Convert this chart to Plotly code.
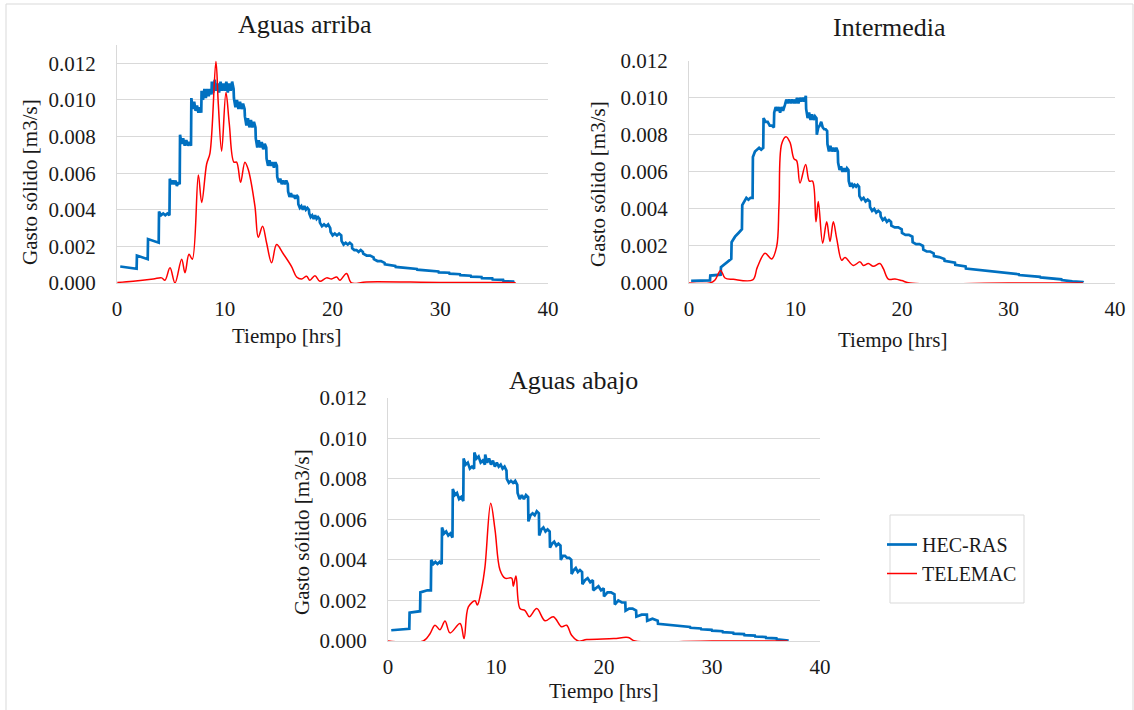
import plotly.graph_objects as go

W, H = 1134, 710
FONT = "Liberation Serif"

# ---------------- data ----------------
TIME_TICKS = [0, 10, 20, 30, 40]
Q_TICKS = [0.000, 0.002, 0.004, 0.006, 0.008, 0.010, 0.012]
SERIES_NAMES = ["HEC-RAS", "TELEMAC"]
PANEL_TITLES = ["Aguas arriba", "Intermedia", "Aguas abajo"]
X_TITLE = "Tiempo [hrs]"
Y_TITLE = "Gasto sólido [m3/s]"

# HEC-RAS, Aguas arriba: start time of each step and the values read along it
UP_HEC_START = [0.3, 1.85, 2.88, 3.9, 4.9, 5.85, 6.9, 7.85, 8.8, 10.85, 11.87, 12.88,
                13.88, 14.87, 15.88, 16.83, 17.84, 18.83, 19.82, 20.84, 21.83, 22.85,
                23.84, 24.86, 25.86, 26.86, 27.86, 28.86, 29.86, 30.86, 31.86, 32.86,
                33.86, 34.86, 35.86]
UP_HEC_VALUES = [
    [0.0009, 0.00086, 0.00083, 0.0008, 0.00078],
    [0.0015, 0.00142, 0.00135, 0.0013],
    [0.0024, 0.00232, 0.00226, 0.0022],
    [0.0039, 0.0037, 0.0038, 0.0037, 0.0038, 0.0037],
    [0.0057, 0.0054, 0.0056, 0.0054, 0.0056, 0.0053, 0.0055, 0.0054],
    [0.0081, 0.0076, 0.0079, 0.0075, 0.0078, 0.0075, 0.0077, 0.0075],
    [0.0101, 0.0095, 0.0099, 0.0094, 0.0097, 0.0093, 0.0096, 0.0093],
    [0.0105, 0.0100, 0.0106, 0.0101, 0.0106, 0.0102, 0.0106, 0.0103],
    [0.0110, 0.0104, 0.0111, 0.0105, 0.0109, 0.0104, 0.0110, 0.0105,
     0.0109, 0.0105, 0.0110, 0.0104, 0.0109, 0.0105, 0.0110, 0.0106],
    [0.0101, 0.0096, 0.0100, 0.0095, 0.0099, 0.0095, 0.0098, 0.0095],
    [0.0091, 0.0086, 0.0090, 0.0085, 0.0089, 0.0085, 0.0088, 0.0085],
    [0.0079, 0.0074, 0.0078, 0.0074, 0.0077, 0.0073, 0.0076, 0.0074],
    [0.0068, 0.0064, 0.0067, 0.0064, 0.0066, 0.0063, 0.0066, 0.0064],
    [0.0058, 0.0055, 0.0057, 0.0054, 0.0056, 0.0054, 0.0056, 0.0054],
    [0.0050, 0.0047, 0.0049, 0.0047, 0.0048, 0.0046, 0.0048, 0.0047],
    [0.0043, 0.0041, 0.0042, 0.0040, 0.0042, 0.0040, 0.0041, 0.0040],
    [0.0038, 0.0036, 0.0037, 0.0035, 0.0037, 0.0035, 0.0036, 0.0035],
    [0.0033, 0.0031, 0.0032, 0.0031, 0.0032, 0.0030],
    [0.0028, 0.0026, 0.0027, 0.0026, 0.0027, 0.0026],
    [0.0023, 0.0021, 0.0022, 0.0021, 0.0022, 0.0021],
    [0.0019, 0.0018, 0.0018, 0.0017, 0.0018, 0.0017],
    [0.0016, 0.0015, 0.0015, 0.0014],
    [0.0013, 0.0012, 0.0012, 0.0011],
    [0.00102, 0.00097, 0.00093],
    [0.00088, 0.00084],
    [0.0008, 0.00077],
    [0.00073, 0.0007],
    [0.00066, 0.00063],
    [0.00058, 0.00056],
    [0.00051, 0.00048],
    [0.00043, 0.0004],
    [0.00035, 0.00033],
    [0.00027, 0.00025],
    [0.00019, 0.00017],
    [0.00011, 0.00008],
]
UP_HEC_END = (36.8, 0.00002)

UP_TEL_T = [0.03, 1.5, 3.37, 4.14, 4.45, 4.92, 5.38, 6.0, 6.31, 6.68, 6.99, 7.55, 7.86,
            8.32, 8.63, 9.18, 9.4, 9.71, 10.11, 10.42, 10.85, 11.1, 11.47, 11.87, 12.18,
            12.8, 13.11, 13.51, 13.88, 14.35, 14.81, 15.43, 16.2, 16.67, 17.13, 17.6,
            17.9, 18.37, 18.83, 19.45, 19.91, 20.38, 20.69, 21.3, 21.77, 23.16, 30.0, 37.0]
UP_TEL_Q = [0.00003, 0.0001, 0.00022, 0.00028, 0.00015, 0.00083, 0.0, 0.0013, 0.00056,
            0.00157, 0.0013, 0.0059, 0.0044, 0.0065, 0.0071, 0.0121, 0.0098, 0.0072,
            0.0104, 0.0087, 0.0066, 0.0066, 0.0055, 0.0066, 0.0062, 0.0042, 0.0025,
            0.0031, 0.0022, 0.0011, 0.0021, 0.0016, 0.0009, 0.00033, 0.00022, 0.00037,
            0.00015, 0.0004, 0.00009, 0.00028, 0.00022, 0.00033, 0.00015, 0.00052, 0.0,
            0.00006, 0.00003, 0.00002]

# HEC-RAS, Intermedia
MID_HEC_START = [0.2, 2, 3, 4, 5, 6, 7, 8, 9, 10, 11, 12, 13, 14, 15, 16, 17, 18, 19, 20,
                 21, 22, 23, 24, 25, 26, 27, 28, 29, 30, 31, 32, 33, 34, 35, 36]
MID_HEC_VALUES = [
    [0.00012, 0.00013, 0.00014],
    [0.0004, 0.00042, 0.00045],
    [0.00085, 0.001, 0.0012, 0.0013],
    [0.0022, 0.0025, 0.0027, 0.0029],
    [0.0042, 0.0044, 0.0046, 0.0045, 0.0046, 0.0046],
    [0.0068, 0.0071, 0.0072, 0.0073, 0.0072, 0.0073],
    [0.0089, 0.0087, 0.0087, 0.0085, 0.0085, 0.0084],
    [0.0092, 0.0095, 0.0093, 0.0095, 0.0092, 0.0095, 0.0093, 0.0095],
    [0.0096, 0.0099, 0.0097, 0.0099, 0.0097, 0.0099, 0.0097, 0.0099],
    [0.0097, 0.0100, 0.0097, 0.0100, 0.0098, 0.0100, 0.0098, 0.0101],
    [0.0094, 0.0089, 0.0092, 0.0088, 0.0091, 0.0088, 0.0090, 0.0089],
    [0.0080, 0.0084, 0.0085, 0.0087, 0.0084, 0.0083, 0.0083, 0.0082],
    [0.0075, 0.0071, 0.0074, 0.0071, 0.0073, 0.0071, 0.0073, 0.0071],
    [0.0065, 0.0061, 0.0063, 0.0060, 0.0062, 0.0060, 0.0062, 0.0061],
    [0.0055, 0.0052, 0.0054, 0.0052, 0.0053, 0.0052, 0.0053, 0.0052],
    [0.0047, 0.0045, 0.0046, 0.0044, 0.0045, 0.0044],
    [0.0041, 0.0039, 0.0040, 0.0038, 0.0039, 0.0038],
    [0.0036, 0.0034, 0.0035, 0.0033, 0.0034, 0.0033],
    [0.0031, 0.0030, 0.0030, 0.0029],
    [0.0027, 0.0026, 0.0026, 0.0025],
    [0.0022, 0.0021, 0.0021, 0.0020],
    [0.0018, 0.0017, 0.0017, 0.0016],
    [0.00145, 0.0014, 0.0013],
    [0.0012, 0.00115, 0.0011],
    [0.00098, 0.0009],
    [0.00078, 0.00072],
    [0.0007, 0.00066],
    [0.00063, 0.0006],
    [0.00056, 0.00053],
    [0.0005, 0.00047],
    [0.00043, 0.0004],
    [0.00036, 0.00033],
    [0.0003, 0.00027],
    [0.00023, 0.0002],
    [0.00016, 0.00013],
    [0.00009, 0.00005],
]
MID_HEC_END = (37.0, 0.00002)

MID_TEL_T = [0.0, 1.97, 2.44, 2.97, 3.38, 4.16, 5.98, 6.42, 7.14, 7.76, 8.23, 8.45, 8.7,
             9.11, 9.48, 9.86, 10.11, 10.42, 10.95, 11.3, 11.6, 11.92, 12.14, 12.55, 12.93,
             13.24, 13.55, 13.87, 14.34, 14.65, 15.43, 16.06, 16.37, 16.84, 17.31, 17.93,
             18.25, 18.72, 19.34, 19.97, 20.75, 30.0, 37.0]
MID_TEL_Q = [0.0, 0.0, 0.00016, 0.00068, 0.00027, 0.0002, 0.00017, 0.00086, 0.0016, 0.0013,
             0.00196, 0.0042, 0.0075, 0.0079, 0.0076, 0.0067, 0.0066, 0.0054, 0.0064, 0.0055,
             0.0055, 0.0033, 0.0044, 0.00215, 0.0033, 0.00224, 0.0033, 0.0024, 0.00123,
             0.00138, 0.00095, 0.00114, 0.00095, 0.00105, 0.0009, 0.00105, 0.00077, 0.00021,
             0.00021, 0.00013, 0.0, 0.0, 0.0]

# HEC-RAS, Aguas abajo
DOWN_HEC_START = [0.3, 2, 3, 4, 5, 6, 7, 8, 9, 11, 12, 13, 14, 15, 16, 17, 18, 19, 20, 21,
                  22, 23, 24, 25, 26, 27, 28, 29, 30, 31, 32, 33, 34, 35, 36]
DOWN_HEC_VALUES = [
    [0.00053, 0.00055, 0.00057, 0.0006],
    [0.0014, 0.00142, 0.00145, 0.00147],
    [0.0024, 0.00245, 0.0025, 0.0025],
    [0.0040, 0.0038, 0.0039, 0.0038, 0.0039, 0.0038],
    [0.0056, 0.0053, 0.0054, 0.0052, 0.0053, 0.0051],
    [0.0075, 0.0072, 0.0073, 0.0070, 0.0071, 0.0069],
    [0.0090, 0.0087, 0.0088, 0.0085, 0.0086, 0.0085],
    [0.0093, 0.0090, 0.0091, 0.0088, 0.0089, 0.0087],
    [0.0092, 0.0088, 0.0090, 0.0087, 0.0089, 0.0086, 0.0088, 0.0086,
     0.0087, 0.0085, 0.0086, 0.0084],
    [0.0080, 0.0078, 0.0079, 0.0078, 0.0079, 0.0077],
    [0.0073, 0.0070, 0.0072, 0.0070, 0.0072, 0.0071],
    [0.0059, 0.0062, 0.0063, 0.0062, 0.0064, 0.0063],
    [0.0052, 0.0055, 0.0056, 0.0054, 0.0055, 0.0054],
    [0.0046, 0.0048, 0.0049, 0.0047, 0.0048, 0.0047],
    [0.0040, 0.0042, 0.0042, 0.0041, 0.0041, 0.0040],
    [0.0033, 0.0035, 0.0036, 0.0034, 0.0035, 0.0034],
    [0.0028, 0.0030, 0.0031, 0.0029, 0.0030],
    [0.0025, 0.0026, 0.0027, 0.0025, 0.0026],
    [0.0022, 0.0024, 0.0024, 0.0023],
    [0.0018, 0.0020, 0.0019, 0.0019],
    [0.0015, 0.0016, 0.0016, 0.0015],
    [0.0012, 0.0013, 0.0013],
    [0.0010, 0.0011, 0.0010],
    [0.00085, 0.0008],
    [0.00078, 0.00075],
    [0.00072, 0.00069],
    [0.00065, 0.00062],
    [0.00058, 0.00055],
    [0.00051, 0.00048],
    [0.00044, 0.00041],
    [0.00036, 0.00034],
    [0.00029, 0.00027],
    [0.00022, 0.0002],
    [0.00015, 0.00013],
    [0.00008, 0.00005],
]
DOWN_HEC_END = (37.1, 0.00002)

DOWN_TEL_T = [0.0, 3.27, 3.89, 4.35, 4.81, 5.28, 5.74, 6.67, 7.04, 7.44, 8.06, 8.27, 8.67,
              8.98, 9.51, 9.91, 10.37, 10.83, 11.45, 11.6, 11.85, 12.22, 12.69, 13.09, 13.77,
              14.54, 15.31, 16.08, 16.54, 17.0, 17.62, 18.4, 20.9, 22.25, 22.87, 30.0, 37.0]
DOWN_TEL_Q = [0.0, 0.0, 0.00036, 0.00078, 0.00056, 0.00099, 0.0004, 0.00086, 0.00012,
              0.00168, 0.00198, 0.00177, 0.0026, 0.00366, 0.0068, 0.00548, 0.0035, 0.0031,
              0.0031, 0.0027, 0.0032, 0.0016, 0.0015, 0.0012, 0.0016, 0.001, 0.0012, 0.0007,
              0.00078, 0.00028, 0.0, 0.00007, 0.00012, 0.00017, 0.0, 0.0, 0.0]


def staircase(starts, values, end):
    """Place the values read along each step between that step's start and the next one."""
    t, q = [], []
    for k, (s, vals) in enumerate(zip(starts, values)):
        e = starts[k + 1] if k + 1 < len(starts) else end[0]
        n = len(vals)
        for j, v in enumerate(vals):
            t.append(s + (e - s - 0.03) * j / (n - 1))
            q.append(v)
    t.append(end[0])
    q.append(end[1])
    return t, q


BLUE = "#0070C0"
RED = "#FF0000"
GRID = "#d9d9d9"
TXT = "#1a1a1a"


def px_x(p):
    return p / W


def px_y(p):
    return 1 - p / H


panels = [
    dict(hec=staircase(UP_HEC_START, UP_HEC_VALUES, UP_HEC_END), tel=(UP_TEL_T, UP_TEL_Q),
         x=(117, 548), y=(283, 45), ymax=0.013),
    dict(hec=staircase(MID_HEC_START, MID_HEC_VALUES, MID_HEC_END), tel=(MID_TEL_T, MID_TEL_Q),
         x=(689, 1115), y=(283, 60.7), ymax=0.012),
    dict(hec=staircase(DOWN_HEC_START, DOWN_HEC_VALUES, DOWN_HEC_END), tel=(DOWN_TEL_T, DOWN_TEL_Q),
         x=(388, 820), y=(641, 397.7), ymax=0.012),
]

fig = go.Figure()
layout_axes = {}
for i, p in enumerate(panels):
    sfx = "" if i == 0 else str(i + 1)
    xa, ya = "x" + sfx, "y" + sfx
    fig.add_trace(go.Scatter(x=p["hec"][0], y=p["hec"][1], mode="lines", name=SERIES_NAMES[0],
                             line=dict(color=BLUE, width=2.7), xaxis=xa, yaxis=ya,
                             showlegend=(i == 0), legendrank=1))
    fig.add_trace(go.Scatter(x=p["tel"][0], y=p["tel"][1], mode="lines", name=SERIES_NAMES[1],
                             line=dict(color=RED, width=1.5, shape="spline", smoothing=1.0),
                             xaxis=xa, yaxis=ya, showlegend=(i == 0), legendrank=2))
    layout_axes["xaxis" + sfx] = dict(
        domain=[px_x(p["x"][0]), px_x(p["x"][1])], anchor=ya, range=[0, 40],
        tickvals=TIME_TICKS, showgrid=False, zeroline=False, showline=True,
        linecolor=GRID, linewidth=1, ticks="", ticklabelstandoff=7, automargin=False,
        tickfont=dict(family=FONT, size=21, color=TXT))
    layout_axes["yaxis" + sfx] = dict(
        domain=[px_y(p["y"][0]), px_y(p["y"][1])], anchor=xa, range=[0, p["ymax"]],
        tickvals=Q_TICKS, tickformat=".3f", showgrid=True, gridcolor=GRID, gridwidth=1,
        zeroline=False, showline=True, linecolor=GRID, linewidth=1, ticks="",
        ticklabelstandoff=16, automargin=False, tickfont=dict(family=FONT, size=21, color=TXT))

annotations = []
# panel titles
for txt, (cx, cy) in zip(PANEL_TITLES, [(305, 25), (889, 28), (573, 381)]):
    annotations.append(dict(text=txt, x=px_x(cx), y=px_y(cy), xref="paper", yref="paper",
                            showarrow=False, xanchor="center", yanchor="middle",
                            font=dict(family=FONT, size=26, color=TXT)))
# x axis titles
for (cx, cy) in [(286, 336), (892, 340), (603, 691)]:
    annotations.append(dict(text=X_TITLE, x=px_x(cx), y=px_y(cy), xref="paper", yref="paper",
                            showarrow=False, xanchor="center", yanchor="middle",
                            font=dict(family=FONT, size=21, color=TXT)))
# y axis titles
for (cx, cy) in [(30, 182), (598, 184), (302, 532)]:
    annotations.append(dict(text=Y_TITLE, x=px_x(cx), y=px_y(cy), xref="paper", yref="paper",
                            showarrow=False, xanchor="center", yanchor="middle", textangle=-90,
                            font=dict(family=FONT, size=21, color=TXT)))

shapes = [
    dict(type="rect", xref="paper", yref="paper", x0=px_x(6), x1=px_x(1133), y0=px_y(714),
         y1=px_y(4), line=dict(color=GRID, width=1), fillcolor="rgba(0,0,0,0)"),
    dict(type="rect", xref="paper", yref="paper", x0=px_x(890), x1=px_x(1024), y0=px_y(603),
         y1=px_y(515), line=dict(color=GRID, width=1), fillcolor="rgba(0,0,0,0)"),
]

fig.update_layout(
    width=W, height=H, margin=dict(l=0, r=0, t=0, b=0, autoexpand=False), autosize=False,
    paper_bgcolor="white", plot_bgcolor="white",
    font=dict(family=FONT, color=TXT),
    showlegend=True,
    legend=dict(x=px_x(882), y=px_y(525), xanchor="left", yanchor="top",
                bgcolor="rgba(0,0,0,0)", borderwidth=0, tracegroupgap=0,
                font=dict(family=FONT, size=20, color=TXT), itemwidth=30),
    annotations=annotations, shapes=shapes,
    **layout_axes,
)

fig.write_html("out.html", config={"displayModeBar": False},
               post_script="document.body.style.margin='0';")
